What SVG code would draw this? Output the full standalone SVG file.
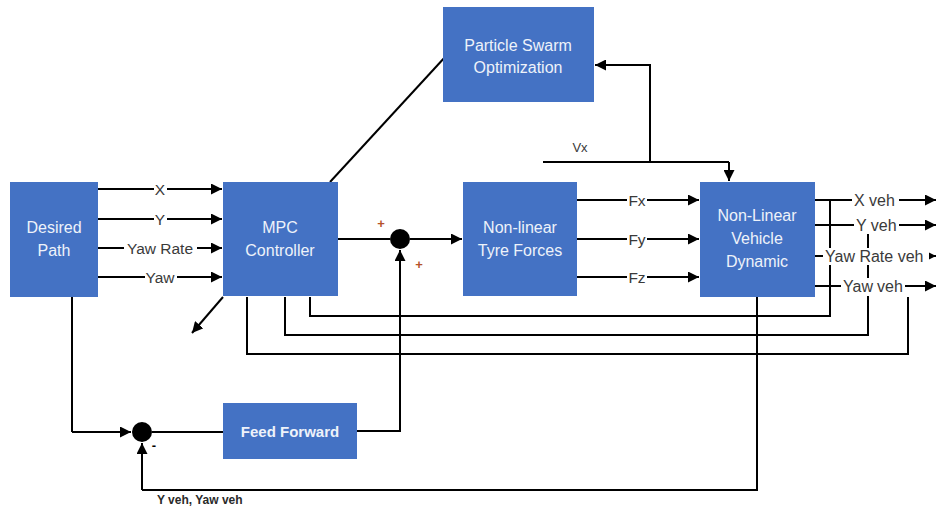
<svg xmlns="http://www.w3.org/2000/svg" width="937" height="510" viewBox="0 0 937 510">
<defs>
<marker id="ah" viewBox="0 0 10 10" refX="10" refY="5" markerWidth="5.5" markerHeight="5.5" orient="auto" markerUnits="strokeWidth">
<path d="M0,0 L10,5 L0,10 z" fill="#000"/>
</marker>
</defs>
<style>
.box{fill:#4472C4;}
.bt{font-family:"Liberation Sans",Arial,sans-serif;font-size:16px;fill:#EEF2FA;text-anchor:middle;}
.ln{stroke:#000;stroke-width:2;fill:none;}
.ar{stroke:#000;stroke-width:2;fill:none;marker-end:url(#ah);}
.bg{fill:#fff;}
.lb{font-family:"Liberation Sans",Arial,sans-serif;font-size:15.5px;fill:#3a3a3a;}
.pm{font-family:"Liberation Sans",Arial,sans-serif;font-size:13px;font-weight:bold;fill:#B5522A;text-anchor:middle;}
</style>
<rect width="937" height="510" fill="#fff"/>
<g id="connectors">
<line class="ar" x1="98" y1="189" x2="222" y2="189"/>
<line class="ar" x1="98" y1="219" x2="222" y2="219"/>
<line class="ar" x1="98" y1="248" x2="222" y2="248"/>
<line class="ar" x1="98" y1="277" x2="222" y2="277"/>
<line class="ln" x1="330" y1="182" x2="446" y2="56"/>
<line class="ar" x1="223" y1="297" x2="192" y2="333"/>
<line class="ln" x1="338" y1="239" x2="390" y2="239"/>
<line class="ar" x1="410" y1="239" x2="462" y2="239"/>
<line class="ar" x1="577" y1="200" x2="699" y2="200"/>
<line class="ar" x1="577" y1="239" x2="699" y2="239"/>
<line class="ar" x1="577" y1="277" x2="699" y2="277"/>
<polyline class="ln" points="543,162 729,162"/>
<line class="ar" x1="729" y1="162" x2="729" y2="181"/>
<polyline class="ar" points="650,162 650,65 595,65"/>
<line class="ar" x1="815" y1="200" x2="936" y2="200"/>
<line class="ar" x1="815" y1="225" x2="936" y2="225"/>
<line class="ar" x1="815" y1="256" x2="936" y2="256"/>
<line class="ar" x1="815" y1="286" x2="936" y2="286"/>
<polyline class="ln" points="830,200 830,316 310,316 310,297"/>
<polyline class="ln" points="868,225 868,335 285,335 285,297"/>
<polyline class="ln" points="908,297 908,354 247,354 247,297"/>
<polyline class="ln" points="757,297 757,490 142,490"/>
<line class="ar" x1="142" y1="490" x2="142" y2="443"/>
<polyline class="ln" points="72,297 72,432"/>
<line class="ar" x1="72" y1="432" x2="131" y2="432"/>
<line class="ln" x1="152" y1="432" x2="223" y2="432"/>
<polyline class="ln" points="357,431 400,431 400,262"/>
<line class="ar" x1="400" y1="262" x2="400" y2="250"/>
<circle cx="400" cy="239" r="10" fill="#000"/>
<circle cx="142" cy="432" r="10" fill="#000"/>
<rect class="bg" x="154" y="181" width="13" height="17"/>
<rect class="bg" x="154" y="211" width="13" height="17"/>
<rect class="bg" x="124" y="240" width="73" height="17"/>
<rect class="bg" x="145" y="269" width="32" height="17"/>
<rect class="bg" x="627" y="192" width="20" height="17"/>
<rect class="bg" x="627" y="231" width="20" height="17"/>
<rect class="bg" x="627" y="269" width="20" height="17"/>
<rect class="bg" x="852" y="192" width="47" height="17"/>
<rect class="bg" x="854" y="217" width="45" height="17"/>
<rect class="bg" x="823" y="248" width="106" height="17"/>
<rect class="bg" x="841" y="278" width="64" height="18"/>
<text class="lb" x="160" y="195" text-anchor="middle">X</text>
<text class="lb" x="160" y="225" text-anchor="middle">Y</text>
<text class="lb" x="160" y="254" text-anchor="middle">Yaw Rate</text>
<text class="lb" x="160" y="283" text-anchor="middle">Yaw</text>
<text class="lb" x="637" y="206" text-anchor="middle">Fx</text>
<text class="lb" x="637" y="245" text-anchor="middle">Fy</text>
<text class="lb" x="637" y="283" text-anchor="middle">Fz</text>
<text class="lb" x="580" y="152" text-anchor="middle" style="font-size:13px">Vx</text>
<text class="lb" x="854" y="206" style="font-size:16px">X veh</text>
<text class="lb" x="856" y="231" style="font-size:16px">Y veh</text>
<text class="lb" x="825" y="262" style="font-size:16px">Yaw Rate veh</text>
<text class="lb" x="843" y="292" style="font-size:16px">Yaw</text>
<text class="lb" x="877" y="292" style="font-size:16px">veh</text>
<text class="pm" x="381" y="228">+</text>
<text class="pm" x="419" y="269">+</text>
<text class="pm" x="154" y="450" style="fill:#000">-</text>
<text x="157" y="504" style="font-family:'Liberation Sans',Arial,sans-serif;font-size:12px;font-weight:bold;fill:#2a2a2a">Y veh, Yaw veh</text>
</g>
<g id="desired-path">
<rect class="box" x="10" y="182" width="88" height="115"/>
<text class="bt" x="54" y="233">Desired</text>
<text class="bt" x="54" y="256">Path</text>
</g>
<g id="mpc-controller">
<rect class="box" x="223" y="182" width="115" height="114"/>
<text class="bt" x="280" y="233">MPC</text>
<text class="bt" x="280" y="256">Controller</text>
</g>
<g id="tyre-forces">
<rect class="box" x="463" y="182" width="114" height="114"/>
<text class="bt" x="520" y="233">Non-linear</text>
<text class="bt" x="520" y="256">Tyre Forces</text>
</g>
<g id="vehicle-dynamic">
<rect class="box" x="700" y="182" width="115" height="115"/>
<text class="bt" x="757" y="221">Non-Linear</text>
<text class="bt" x="757" y="244">Vehicle</text>
<text class="bt" x="757" y="267">Dynamic</text>
</g>
<g id="pso">
<rect class="box" x="443" y="7" width="151" height="95"/>
<text class="bt" x="518" y="51">Particle Swarm</text>
<text class="bt" x="518" y="73">Optimization</text>
</g>
<g id="feed-forward">
<rect class="box" x="223" y="403" width="134" height="56"/>
<text class="bt" x="290" y="437" style="font-weight:bold;font-size:15px">Feed Forward</text>
</g>
</svg>
